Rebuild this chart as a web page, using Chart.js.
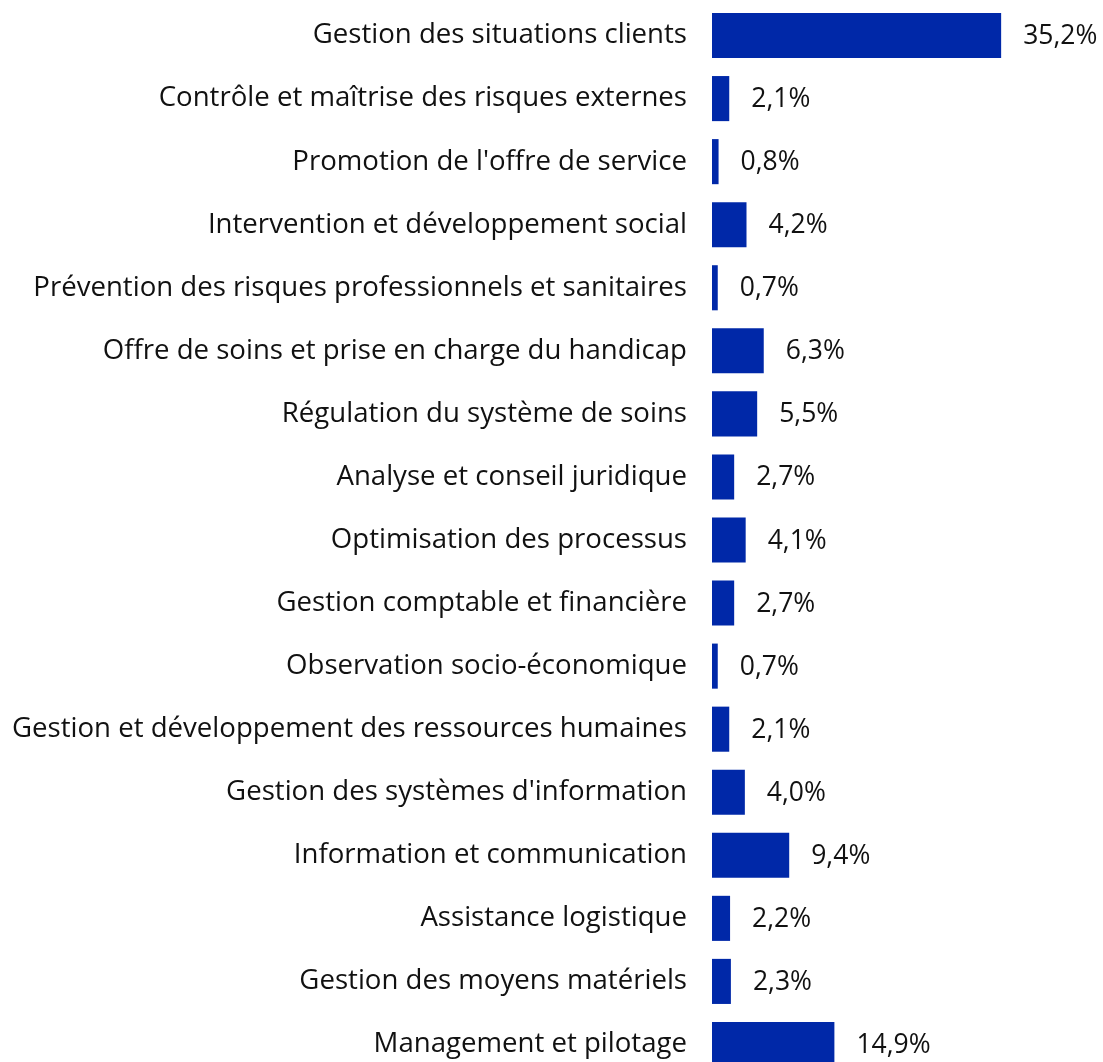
<!DOCTYPE html>
<html>
<head>
<meta charset="utf-8">
<script src="https://cdn.jsdelivr.net/npm/chart.js@4/dist/chart.umd.min.js"></script>
<style>
  html, body { margin: 0; padding: 0; background: #fff; overflow: hidden; }
  #wrap { width: 1103px; height: 1080px; }
</style>
</head>
<body>
<div id="wrap"><canvas id="barChart"></canvas></div>
<script>
const categories = [
    "Gestion des situations clients",
    "Contrôle et maîtrise des risques externes",
    "Promotion de l'offre de service",
    "Intervention et développement social",
    "Prévention des risques professionnels et sanitaires",
    "Offre de soins et prise en charge du handicap",
    "Régulation du système de soins",
    "Analyse et conseil juridique",
    "Optimisation des processus",
    "Gestion comptable et financière",
    "Observation socio-économique",
    "Gestion et développement des ressources humaines",
    "Gestion des systèmes d'information",
    "Information et communication",
    "Assistance logistique",
    "Gestion des moyens matériels",
    "Management et pilotage"
];
const shares = [35.2, 2.1, 0.8, 4.2, 0.7, 6.3, 5.5, 2.7, 4.1, 2.7, 0.7, 2.1, 4.0, 9.4, 2.2, 2.3, 14.9];

const BAR_COLOR = '#0028a8';
const FONT = '"Open Sans", sans-serif';

// Draw the value labels at the end of each bar
const valueLabels = {
    id: 'valueLabels',
    afterDatasetsDraw(chart) {
        const ctx = chart.ctx;
        const meta = chart.getDatasetMeta(0);
        ctx.save();
        ctx.font = '26.5px ' + FONT;
        ctx.fillStyle = '#111';
        ctx.textBaseline = 'middle';
        ctx.textAlign = 'left';
        meta.data.forEach((bar, i) => {
            const txt = shares[i].toFixed(1).replace('.', ',') + '%';
            ctx.fillText(txt, bar.x + 22, bar.y + 1);
        });
        ctx.restore();
    }
};

function initChart() {
    const ctx = document.getElementById('barChart').getContext('2d');
    new Chart(ctx, {
        type: 'bar',
        data: {
            labels: categories,
            datasets: [{
                data: shares,
                backgroundColor: BAR_COLOR,
                borderWidth: 0,
                barPercentage: 0.715,
                categoryPercentage: 1
            }]
        },
        options: {
            indexAxis: 'y',
            responsive: true,
            maintainAspectRatio: false,
            animation: false,
            layout: { padding: { top: 4, bottom: 4, left: 0, right: 0 } },
            plugins: {
                legend: { display: false },
                tooltip: { enabled: false }
            },
            scales: {
                x: {
                    display: false,
                    min: 0,
                    max: 47.6
                },
                y: {
                    grid: { display: false, drawTicks: false },
                    border: { display: false },
                    ticks: {
                        color: '#111',
                        padding: 25,
                        font: { family: FONT, size: 27.6 }
                    },
                    afterFit(scale) {
                        scale.width = 712;
                        scale.paddingTop = 0;
                        scale.paddingBottom = 0;
                    }
                }
            }
        },
        plugins: [valueLabels]
    });
}

window.onload = initChart;
</script>
</body>
</html>
